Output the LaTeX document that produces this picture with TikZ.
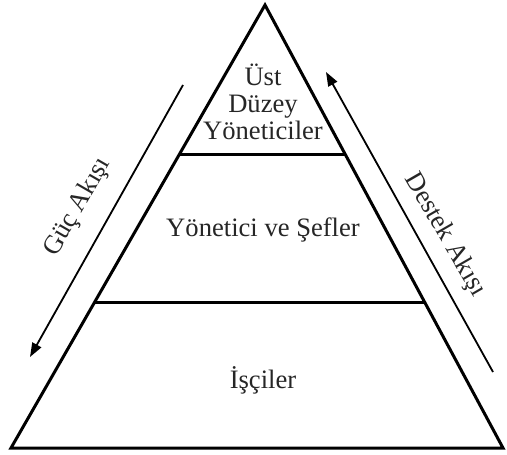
\documentclass[tikz,border=0pt]{standalone}
\usepackage{fontspec}
\setmainfont{Liberation Serif}
\usetikzlibrary{arrows.meta,calc}

\tikzset{
  level/.style={line width=1.5pt},
  flow/.style={line width=0.9pt,-{Triangle[length=7pt,width=5pt]}},
  lbl/.style={font=\fontsize{13.3}{15}\selectfont,text=black!85,inner sep=0pt,align=center}
}

\begin{document}
\begin{tikzpicture}[x=0.5pt,y=0.5pt]
\useasboundingbox (0,0) rectangle (507,454);
% pyramid corners
\coordinate (apex) at (265,449);
\coordinate (bl) at (11,6);
\coordinate (br) at (503,6);
\draw[level,line join=miter] (apex)--(bl)--(br)--cycle;
% level boundaries
\coordinate (l1a) at ($(apex)!{150/443}!(bl)$);
\coordinate (l1b) at ($(apex)!{150/443}!(br)$);
\coordinate (l2a) at ($(apex)!{298/443}!(bl)$);
\coordinate (l2b) at ($(apex)!{298/443}!(br)$);
\draw[level] (l1a)--(l1b);
\draw[level] (l2a)--(l2b);
% level names
\node[lbl,text width=120pt] (top) at (263,352) {Üst\\[-1.5pt]Düzey\\[-1.5pt]Yöneticiler};
\node[lbl] (mid) at (263,224) {Yönetici ve Şefler};
\node[lbl] (bot) at (263,74) {İşçiler};
% flows
\coordinate (gs) at (183,369);
\coordinate (ge) at (30,97);
\coordinate (ds) at (493,82);
\coordinate (de) at (326,382);
\draw[flow] (gs)--(ge);
\draw[flow] (ds)--(de);
\node[lbl,rotate=60] (guc) at (78,247) {Güç Akışı};
\node[lbl,rotate=-60] (destek) at (445,219) {Destek Akışı};
\end{tikzpicture}
\end{document}
